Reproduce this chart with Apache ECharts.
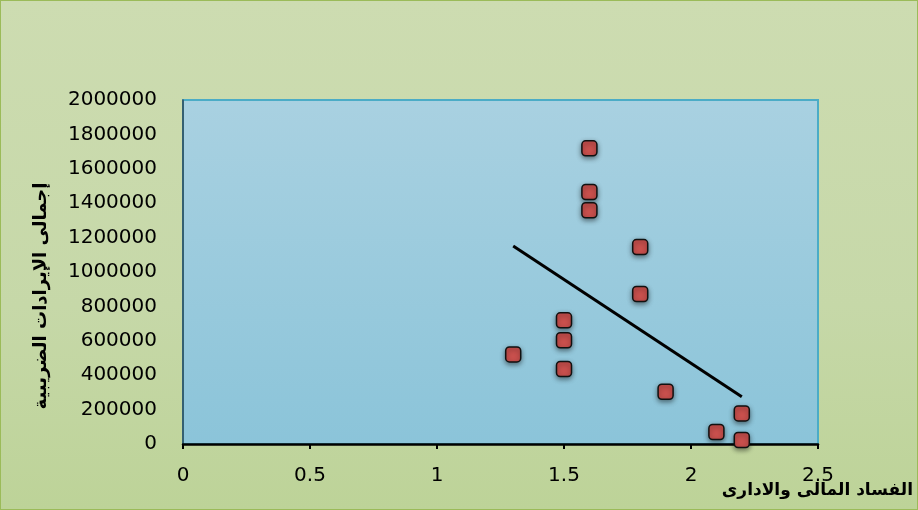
<!DOCTYPE html>
<html>
<head>
<meta charset="utf-8">
<script src="https://cdn.jsdelivr.net/npm/echarts@6/dist/echarts.min.js"></script>
<style>
html,body{margin:0;padding:0;}
#main{width:918px;height:510px;box-sizing:border-box;border:1px solid #9bbb59;background:linear-gradient(to bottom,#cddcb1 0%,#c6d8a8 60%,#bdd398 100%);}
</style>
</head>
<body>
<div id="main"></div>
<script>
// Data
var xValues = [1.6, 1.6, 1.6, 1.8, 1.8, 1.5, 1.5, 1.3, 1.5, 1.9, 2.2, 2.1, 2.2];
var yValues = [1719000, 1465000, 1359000, 1145000, 872000, 719000, 603000, 521000, 436000, 304000, 178000, 70000, 23000];
var xTicks = [0, 0.5, 1, 1.5, 2, 2.5];
var yTicks = [0, 200000, 400000, 600000, 800000, 1000000, 1200000, 1400000, 1600000, 1800000, 2000000];
var xTitle = 'الفساد المالى والادارى';
var yTitle = 'إجمالى الإيرادات الضريبية';

var points = xValues.map(function (x, i) { return [x, yValues[i]]; });

// Linear trend line (least squares) over the data
var n = xValues.length;
var mx = xValues.reduce(function (a, b) { return a + b; }, 0) / n;
var my = yValues.reduce(function (a, b) { return a + b; }, 0) / n;
var sxy = 0, sxx = 0;
for (var i = 0; i < n; i++) { sxy += (xValues[i] - mx) * (yValues[i] - my); sxx += (xValues[i] - mx) * (xValues[i] - mx); }
var slope = sxy / sxx, icpt = my - slope * mx;
var xMin = Math.min.apply(null, xValues), xMax = Math.max.apply(null, xValues);
var trend = [[xMin, icpt + slope * xMin], [xMax, icpt + slope * xMax]];

var chart = echarts.init(document.getElementById('main'), null, {renderer: 'canvas'});
var tickFont = {fontFamily: 'DejaVu Sans', fontSize: 20, color: '#000'};
chart.setOption({
  animation: false,
  backgroundColor: 'transparent',
  grid: {
    left: 182, top: 99, width: 635, height: 344,
    show: true,
    borderColor: '#4bacc6', borderWidth: 2,
    backgroundColor: new echarts.graphic.LinearGradient(0, 0, 0, 1, [
      {offset: 0, color: '#a9d1e1'}, {offset: 1, color: '#8bc4d9'}
    ])
  },
  xAxis: {
    type: 'value', min: xTicks[0], max: xTicks[xTicks.length - 1], interval: 0.5,
    splitLine: {show: false},
    axisLine: {show: true, onZero: false, lineStyle: {color: '#000', width: 2.5}},
    axisTick: {show: true, length: 5, lineStyle: {color: '#000', width: 2}},
    axisLabel: Object.assign({margin: 22, formatter: function (v) { return String(v); }}, tickFont)
  },
  yAxis: {
    type: 'value', min: yTicks[0], max: yTicks[yTicks.length - 1], interval: 200000,
    splitLine: {show: false},
    axisLine: {show: true, onZero: false, lineStyle: {color: '#2d4756', width: 1.5}},
    axisTick: {show: false},
    axisLabel: Object.assign({margin: 26, formatter: function (v) { return String(v); }}, tickFont)
  },
  series: [
    {
      type: 'line', data: trend, symbol: 'none', z: 3,
      lineStyle: {color: '#000', width: 3}
    },
    {
      type: 'scatter', data: points, symbol: 'roundRect', symbolSize: 15, z: 4,
      itemStyle: {
        color: '#c9504d', opacity: 1, borderColor: '#111', borderWidth: 1.5,
        shadowBlur: 5, shadowColor: 'rgba(0,0,0,0.45)', shadowOffsetY: 2
      }
    }
  ],
  graphic: [
    {
      type: 'text', x: 40, y: 295, rotation: Math.PI / 2,
      style: {text: yTitle, font: 'bold 18px "DejaVu Sans"', fill: '#000', align: 'center', verticalAlign: 'middle'}
    },
    {
      type: 'text', x: 912, y: 490,
      style: {text: xTitle, font: 'bold 17px "DejaVu Sans"', fill: '#000', align: 'right', verticalAlign: 'middle'}
    }
  ]
});
</script>
</body>
</html>
